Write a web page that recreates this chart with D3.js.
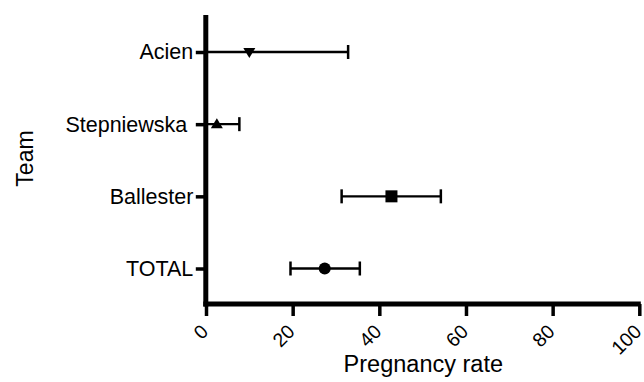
<!DOCTYPE html>
<html><head><meta charset="utf-8">
<script src="https://cdn.jsdelivr.net/npm/d3@7"></script>
<style>body{margin:0;background:#fff;} text{font-family:"Liberation Sans",Arial,sans-serif;fill:#000;}</style>
</head><body>
<svg id="c" width="644" height="382"></svg>
<script>
const teams = ["Acien", "Stepniewska ", "Ballester", "TOTAL"];
const rates = [10, 2.5, 42.8, 27.4];
const lower = [0, 0, 31.3, 19.5];
const upper = [32.8, 7.7, 54.2, 35.5];
const markers = ["triangleDown", "triangleUp", "square", "circle"];
const xTicks = [0, 20, 40, 60, 80, 100];

const svg = d3.select("#c");
const x = d3.scaleLinear().domain([0, 100]).range([206, 639.3]);
const y = d3.scalePoint().domain(teams).range([52, 268.5]);
const axisY = 304;
const axisX = 205.8;

// X axis
const xa = svg.append("g").attr("transform", `translate(0,${axisY})`)
  .call(d3.axisBottom(x).tickValues(xTicks).tickSize(12).tickSizeOuter(0));
xa.select(".domain").attr("stroke", "#000").attr("stroke-width", 5).attr("d", `M${axisX-2.5},0H${x(100)+1.5}`);
xa.selectAll(".tick line").attr("stroke-width", 3.5).attr("y1", 0);
xa.selectAll(".tick text")
  .attr("y", 0).attr("dy", "0.35em")
  .style("font-size", "19.5px").style("font-family", "'Liberation Sans', Arial, sans-serif")
  .attr("text-anchor", "end")
  .attr("transform", "translate(-2,24) rotate(-45)");

// Y axis
const ya = svg.append("g").attr("transform", `translate(${axisX},0)`)
  .call(d3.axisLeft(y).tickSize(10).tickSizeOuter(0));
ya.select(".domain").attr("stroke", "#000").attr("stroke-width", 5).attr("d", `M0,15V${axisY+2.5}`);
ya.selectAll(".tick line").attr("stroke-width", 3.5).attr("x2", -10);
ya.selectAll(".tick text")
  .attr("x", -12.5)
  .style("font-size", "21.5px").style("font-family", "'Liberation Sans', Arial, sans-serif")
  .style("white-space", "pre").attr("xml:space", "preserve");

// Error bars
const g = svg.append("g");
teams.forEach((t, i) => {
  const yy = y(t);
  g.append("line").attr("x1", x(lower[i])).attr("x2", x(upper[i])).attr("y1", yy).attr("y2", yy)
    .attr("stroke", "#000").attr("stroke-width", 2.3);
  [lower[i], upper[i]].forEach(v => {
    if (v === 0) return;
    g.append("line").attr("x1", x(v)).attr("x2", x(v)).attr("y1", yy - 7).attr("y2", yy + 7)
      .attr("stroke", "#000").attr("stroke-width", 2.5);
  });
  const cx = x(rates[i]);
  if (markers[i] === "circle") {
    g.append("circle").attr("cx", cx).attr("cy", yy).attr("r", 6).attr("fill", "#000");
  } else if (markers[i] === "square") {
    g.append("rect").attr("x", cx - 6).attr("y", yy - 6).attr("width", 12).attr("height", 12).attr("fill", "#000");
  } else if (markers[i] === "triangleDown") {
    g.append("path").attr("d", `M${cx-6},${yy-4}L${cx+6},${yy-4}L${cx},${yy+6}Z`).attr("fill", "#000");
  } else {
    g.append("path").attr("d", `M${cx-6},${yy+4}L${cx+6},${yy+4}L${cx},${yy-6}Z`).attr("fill", "#000");
  }
});

// Titles
svg.append("text").attr("x", 423.3).attr("y", 372).attr("text-anchor", "middle").style("font-size", "23.5px").text("Pregnancy rate");
svg.append("text").attr("transform", "translate(33,158.5) rotate(-90)").attr("text-anchor", "middle").style("font-size", "23px").text("Team");
</script>
</body></html>
